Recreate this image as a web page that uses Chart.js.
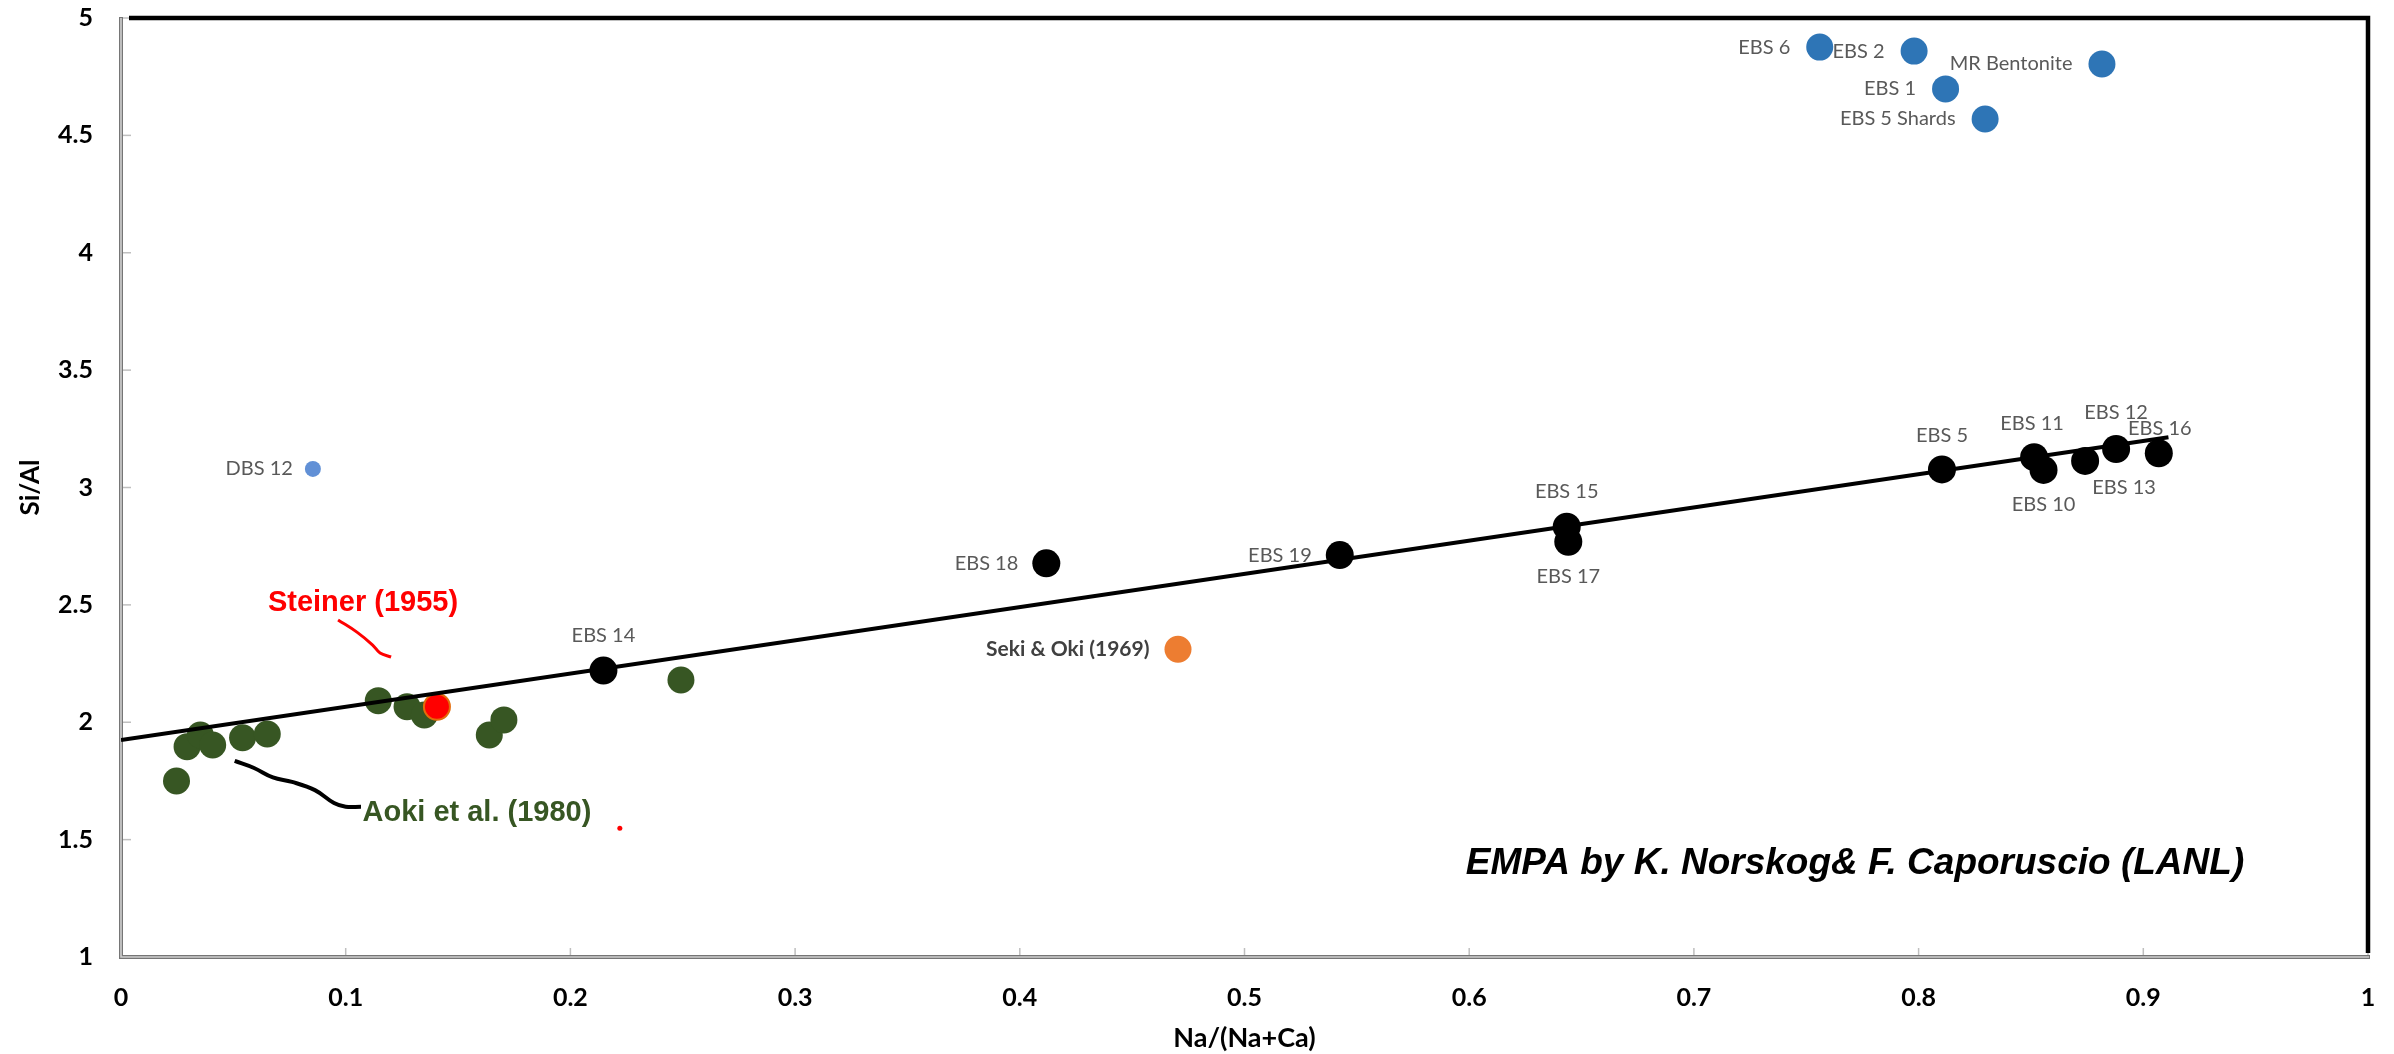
<!DOCTYPE html>
<html>
<head>
<meta charset="utf-8">
<script src="https://cdn.jsdelivr.net/npm/chart.js@4.4.1/dist/chart.umd.min.js"></script>
<style>
  html, body { margin: 0; padding: 0; background: #ffffff; }
  #wrap { width: 2394px; height: 1054px; }
</style>
</head>
<body>
<div id="wrap"><canvas id="c" width="2394" height="1054"></canvas></div>
<script>
// ---------------- DATA ----------------
const xTickLabels = ['0', '0.1', '0.2', '0.3', '0.4', '0.5', '0.6', '0.7', '0.8', '0.9', '1'];
const yTickLabels = ['1', '1.5', '2', '2.5', '3', '3.5', '4', '4.5', '5'];

// Aoki et al. (1980) – green
const aokiX = [0.0247, 0.0294, 0.0353, 0.0408, 0.0541, 0.0651, 0.1145, 0.1273, 0.1350, 0.1639, 0.1704, 0.2492];
const aokiY = [1.750, 1.896, 1.946, 1.903, 1.934, 1.950, 2.092, 2.066, 2.031, 1.946, 2.010, 2.180];

// Steiner (1955) – red
const steinerX = [0.1406];
const steinerY = [2.066];

// small red mark
const redDotX = [0.222];
const redDotY = [1.548];

// Seki & Oki (1969) – orange
const sekiNames = ['Seki & Oki (1969)'];
const sekiX = [0.4704];
const sekiY = [2.311];

// EBS samples – black
const ebsNames = ['EBS 14', 'EBS 18', 'EBS 19', 'EBS 15', 'EBS 17', 'EBS 5', 'EBS 11', 'EBS 10', 'EBS 13', 'EBS 12', 'EBS 16'];
const ebsX = [0.2147, 0.4118, 0.5424, 0.6434, 0.6441, 0.8104, 0.8514, 0.8556, 0.8741, 0.8879, 0.9069];
const ebsY = [2.220, 2.677, 2.712, 2.833, 2.769, 3.077, 3.129, 3.075, 3.113, 3.164, 3.146];

// Blue samples
const blueNames = ['EBS 6', 'EBS 2', 'MR Bentonite', 'EBS 1', 'EBS 5 Shards'];
const blueX = [0.756, 0.798, 0.8816, 0.812, 0.8296];
const blueY = [4.876, 4.859, 4.804, 4.698, 4.570];

// DBS 12
const dbsNames = ['DBS 12'];
const dbsX = [0.0854];
const dbsY = [3.079];

// Trend line
const trendX = [0, 0.9112];
const trendY = [1.924, 3.214];

// Hand-drawn leader strokes (data coordinates)
const steinerLeaderX = [0.0966, 0.1050, 0.1120, 0.1153, 0.1202];
const steinerLeaderY = [2.436, 2.384, 2.329, 2.295, 2.278];
const aokiLeaderX = [0.0506, 0.0592, 0.0676, 0.0761, 0.0863, 0.0948, 0.1000, 0.1068];
const aokiLeaderY = [1.835, 1.805, 1.765, 1.746, 1.711, 1.656, 1.640, 1.640];

// Annotation texts and their anchor (data coordinates)
const noteTexts = ['Steiner (1955)', 'Aoki et al. (1980)', 'EMPA by K. Norskog& F. Caporuscio (LANL)'];
const noteX = [0.1077, 0.1584, 0.7717];
const noteY = [2.508, 1.613, 1.399];

// ---------------- LABEL PLACEMENT (style, not data) ----------------
const ebsLabelPos = ['above', 'left', 'left', 'above', 'below', 'above', 'above', 'below', 'below', 'above', 'above'];
const ebsLabelDx  = [0, 0, 0, 0, 0, 0, -2, 0, 39, 0, 1];
const ebsLabelDy  = [-35, 0, 0, -35, 35, -34, -34, 35, 27, -36, -25];
const blueLabelPos = ['left', 'left', 'left', 'left', 'left'];

const toPts = (xs, ys) => xs.map((x, i) => ({ x: x, y: ys[i] }));

const labelFont = '20px Lato';
const labelColor = '#595959';

const pointLabelPlugin = {
  id: 'pointLabels',
  afterDatasetsDraw(chart) {
    const ctx = chart.ctx;
    chart.data.datasets.forEach((ds, di) => {
      if (!ds.names) return;
      const meta = chart.getDatasetMeta(di);
      meta.data.forEach((el, i) => {
        const pos = ds.labelPos[i];
        const r = ds.pointRadius;
        const dx = ds.labelDx ? ds.labelDx[i] : 0;
        const dy = ds.labelDy ? ds.labelDy[i] : 0;
        ctx.save();
        ctx.font = ds.labelFont || labelFont;
        ctx.fillStyle = ds.labelColor || labelColor;
        ctx.textBaseline = 'middle';
        if (pos === 'left') {
          ctx.textAlign = 'right';
          ctx.fillText(ds.names[i], el.x - r - (ds.labelGap || 14) + dx, el.y + dy);
        } else {
          ctx.textAlign = 'center';
          ctx.fillText(ds.names[i], el.x + dx, el.y + dy);
        }
        ctx.restore();
      });
    });
  }
};

const framePlugin = {
  id: 'frame',
  beforeDatasetsDraw(chart) {
    const ctx = chart.ctx;
    const a = chart.chartArea;
    const xs = chart.scales.x, ys = chart.scales.y;
    ctx.save();
    // inward ticks
    ctx.strokeStyle = '#bfbfbf';
    ctx.lineWidth = 1.5;
    ys.ticks.forEach(t => {
      const py = ys.getPixelForValue(t.value);
      ctx.beginPath(); ctx.moveTo(a.left, py); ctx.lineTo(a.left + 10, py); ctx.stroke();
    });
    xs.ticks.forEach(t => {
      const px = xs.getPixelForValue(t.value);
      ctx.beginPath(); ctx.moveTo(px, a.bottom); ctx.lineTo(px, a.bottom - 9); ctx.stroke();
    });
    // top & right thick black border
    ctx.strokeStyle = '#000000';
    ctx.lineWidth = 4.5;
    ctx.beginPath();
    ctx.moveTo(a.left + 8, a.top);
    ctx.lineTo(a.right, a.top);
    ctx.lineTo(a.right, a.bottom - 4);
    ctx.stroke();
    // left & bottom gray double axis
    ctx.lineWidth = 4;
    ctx.strokeStyle = '#767676';
    ctx.beginPath();
    ctx.moveTo(a.left, a.top - 1);
    ctx.lineTo(a.left, a.bottom);
    ctx.lineTo(a.right + 2, a.bottom);
    ctx.stroke();
    ctx.lineWidth = 1.6;
    ctx.strokeStyle = '#d0d0d0';
    ctx.beginPath();
    ctx.moveTo(a.left, a.top);
    ctx.lineTo(a.left, a.bottom);
    ctx.lineTo(a.right + 1, a.bottom);
    ctx.stroke();
    ctx.restore();
  },
  afterDatasetsDraw(chart) {
    const ctx = chart.ctx;
    const xs = chart.scales.x, ys = chart.scales.y;
    const styles = [
      { font: 'bold 29px "Liberation Sans"', color: '#ff0000', align: 'center' },
      { font: 'bold 29px "Liberation Sans"', color: '#375623', align: 'center' },
      { font: 'italic bold 37px "Liberation Sans"', color: '#000000', align: 'center' }
    ];
    noteTexts.forEach((t, i) => {
      ctx.save();
      ctx.font = styles[i].font;
      ctx.fillStyle = styles[i].color;
      ctx.textAlign = styles[i].align;
      ctx.textBaseline = 'middle';
      ctx.fillText(t, xs.getPixelForValue(noteX[i]), ys.getPixelForValue(noteY[i]));
      ctx.restore();
    });
  }
};

const tickFont = { family: 'Lato', size: 25, weight: 'bold' };

new Chart(document.getElementById('c'), {
  type: 'scatter',
  data: {
    datasets: [
      {
        label: 'EBS', data: toPts(ebsX, ebsY), names: ebsNames,
        labelPos: ebsLabelPos, labelDx: ebsLabelDx, labelDy: ebsLabelDy,
        backgroundColor: '#000000', borderColor: '#000000', pointRadius: 14, borderWidth: 0, order: 0
      },
      {
        label: 'Blue', data: toPts(blueX, blueY), names: blueNames, labelPos: blueLabelPos, labelGap: 16,
        backgroundColor: '#2e75b6', borderColor: '#2e75b6', pointRadius: 13.5, borderWidth: 0, order: 0
      },
      {
        label: 'DBS', data: toPts(dbsX, dbsY), names: dbsNames, labelPos: ['left'], labelGap: 12,
        backgroundColor: '#6190d6', borderColor: '#6190d6', pointRadius: 8, borderWidth: 0, order: 0
      },
      {
        label: 'Seki', data: toPts(sekiX, sekiY), names: sekiNames, labelPos: ['left'], labelGap: 15,
        labelFont: 'bold 21px Lato', labelColor: '#404040',
        backgroundColor: '#ed7d31', borderColor: '#ed7d31', pointRadius: 13.5, borderWidth: 0, order: 0
      },
      {
        label: 'Trend', data: toPts(trendX, trendY), showLine: true,
        borderColor: '#000000', borderWidth: 4, pointRadius: 0, backgroundColor: '#000000', order: 1
      },
      {
        label: 'Steiner', data: toPts(steinerX, steinerY),
        backgroundColor: '#ff0000', borderColor: '#e46c0a', borderWidth: 2, pointRadius: 13, order: 2
      },
      {
        label: 'RedDot', data: toPts(redDotX, redDotY),
        backgroundColor: '#ff0000', borderColor: '#ff0000', borderWidth: 0, pointRadius: 2.5, order: 2
      },
      {
        label: 'Aoki', data: toPts(aokiX, aokiY),
        backgroundColor: '#375623', borderColor: '#375623', borderWidth: 0, pointRadius: 13.5, order: 3
      },
      {
        label: 'SteinerLeader', data: toPts(steinerLeaderX, steinerLeaderY), showLine: true, tension: 0.4,
        borderColor: '#ff0000', borderWidth: 3, pointRadius: 0, order: 4
      },
      {
        label: 'AokiLeader', data: toPts(aokiLeaderX, aokiLeaderY), showLine: true, tension: 0.4,
        borderColor: '#000000', borderWidth: 4, pointRadius: 0, order: 4
      }
    ]
  },
  options: {
    responsive: false,
    animation: false,
    devicePixelRatio: 1,
    layout: { padding: { top: 18, right: 26, left: 0, bottom: 0 } },
    plugins: { legend: { display: false }, tooltip: { enabled: false } },
    scales: {
      x: {
        type: 'linear', min: 0, max: 1,
        afterFit: (s) => { s.height = 97; s.paddingLeft = 0; s.paddingRight = 0; },
        grid: { display: false, drawTicks: false },
        border: { display: false },
        ticks: {
          stepSize: 0.1, padding: 26, color: '#000000', font: tickFont,
          maxRotation: 0, autoSkip: false,
          callback: (v, i) => xTickLabels[i]
        },
        title: { display: true, text: 'Na/(Na+Ca)', color: '#000000', font: { family: 'Lato', size: 27, weight: 'bold' }, padding: 0 }
      },
      y: {
        type: 'linear', min: 1, max: 5,
        afterFit: (s) => { s.width = 121; s.paddingTop = 0; s.paddingBottom = 0; },
        grid: { display: false, drawTicks: false },
        border: { display: false },
        ticks: {
          stepSize: 0.5, padding: 28, color: '#000000', font: tickFont,
          autoSkip: false,
          callback: (v, i) => yTickLabels[i]
        },
        title: { display: true, text: 'Si/Al', color: '#000000', font: { family: 'Lato', size: 26, weight: 'bold' }, padding: { top: 15, bottom: 0 } }
      }
    }
  },
  plugins: [framePlugin, pointLabelPlugin]
});
</script>
</body>
</html>
